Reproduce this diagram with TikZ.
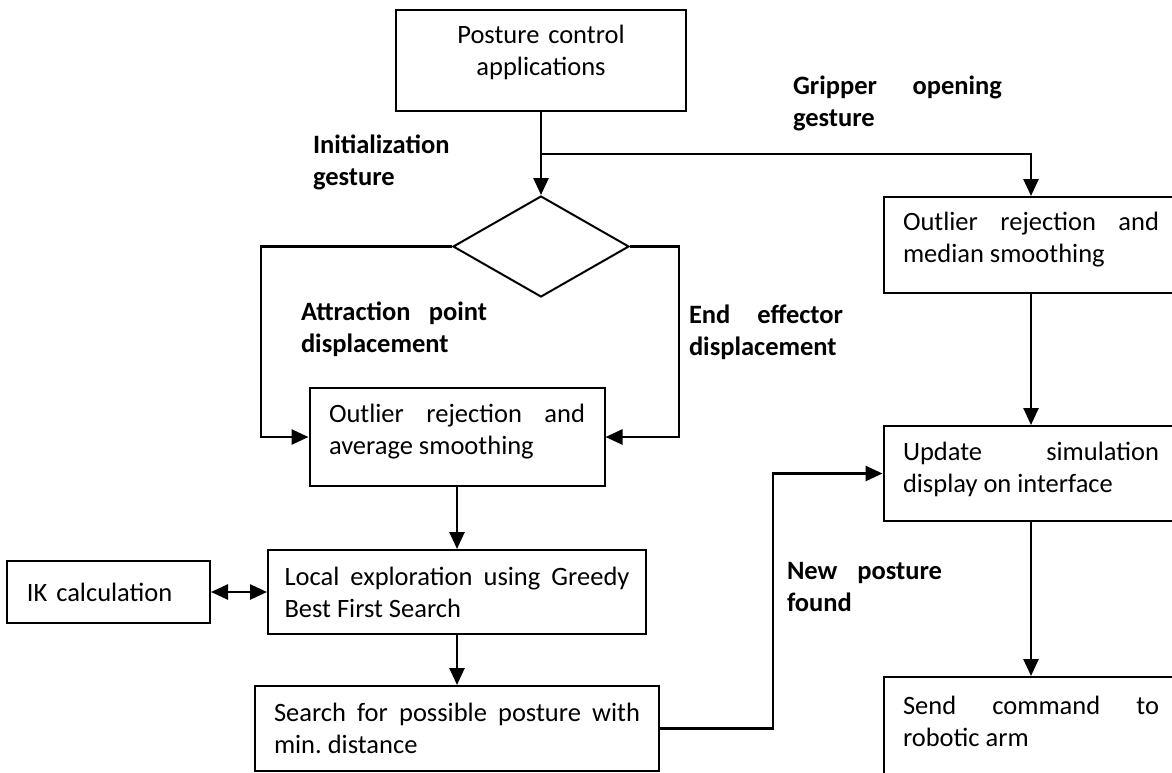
\documentclass[tikz,border=0pt]{standalone}
\usepackage{fontspec}
\setmainfont{Carlito}
\usetikzlibrary{arrows.meta,shapes.geometric}
\hyphenpenalty=10000
\exhyphenpenalty=10000
\tolerance=10000
\frenchspacing
\begin{document}
\begin{tikzpicture}[x=1pt,y=-1pt,
  every node/.style={font=\fontsize{26.5}{32}\selectfont},
  box/.style={draw, line width=2pt, inner sep=0pt, align=justify},
  lbl/.style={font=\fontsize{26.5}{32}\selectfont\bfseries, inner sep=0pt, align=justify},
  flow/.style={line width=2.6pt, -{Triangle[length=17pt,width=15pt]}},
  both/.style={line width=2.6pt, {Triangle[length=17pt,width=15pt]}-{Triangle[length=17pt,width=15pt]}},
  raise/.style={execute at end node={\endgraf\vspace*{#1}}}
]
\useasboundingbox (0,0) rectangle (1172,772);
\clip (0,0) rectangle (1172,772);

% process boxes
\node[box, align=center, text width=250pt, minimum width=290pt, minimum height=101pt, raise=16pt]
  (apps) at (541,60.5) {Posture control\\applications};
\node[draw, diamond, line width=2pt, inner sep=0pt, minimum width=176pt, minimum height=101pt]
  (gate) at (541,246.5) {};
\node[box, text width=256pt, minimum width=295pt, minimum height=98pt, raise=11pt]
  (avg) at (457,437) {Outlier rejection and\linebreak average smoothing};
\node[box, text width=345pt, minimum width=378pt, minimum height=84pt]
  (local) at (457,592) {Local exploration using Greedy\linebreak Best First Search};
\node[box, align=left, text width=163pt, minimum width=203pt, minimum height=62pt]
  (ik) at (108.5,592) {IK calculation};
\node[box, text width=366pt, minimum width=404pt, minimum height=85pt]
  (search) at (457,728.5) {Search for possible posture with\linebreak min. distance};
\node[box, text width=256pt, minimum width=295pt, minimum height=96pt, raise=10pt]
  (median) at (1031,245) {Outlier rejection and\linebreak median smoothing};
\node[box, text width=256pt, minimum width=295pt, minimum height=95pt, raise=8pt]
  (update) at (1031,473.5) {Update simulation\linebreak display on interface};
\node[box, text width=256pt, minimum width=295pt, minimum height=98pt, raise=10pt]
  (send) at (1031,726) {Send command to\linebreak robotic arm};

% connector labels
\node[lbl, text width=209pt] (gripper) at (897.5,103) {Gripper opening\linebreak gesture};
\node[lbl, text width=140pt, align=left] (init) at (383,162.5) {Initialization\\gesture};
\node[lbl, text width=186pt] (attr) at (394,329) {Attraction point\linebreak displacement};
\node[lbl, text width=154pt] (endeff) at (766,332.5) {End effector\linebreak displacement};
\node[lbl, text width=155pt] (newpost) at (864.5,587) {New posture\linebreak found};

% connectors
\coordinate (split) at (541,154);
\draw[flow] (apps.south) -- (gate.north);
\draw[flow] (split) -| (median.north);
\draw[flow] (gate.west) -- ++(-191,0) |- (avg.west);
\draw[flow] (gate.east) -- ++(49,0) |- (avg.east);
\draw[flow] (avg.south) -- (local.north);
\draw[both] (ik.east) -- (local.west);
\draw[flow] (local.south) -- (search.north);
\draw[flow] (search.east) -- ++(113,0) |- (update.west);
\draw[flow] (median.south) -- (update.north);
\draw[flow] (update.south) -- (send.north);
\end{tikzpicture}
\end{document}
